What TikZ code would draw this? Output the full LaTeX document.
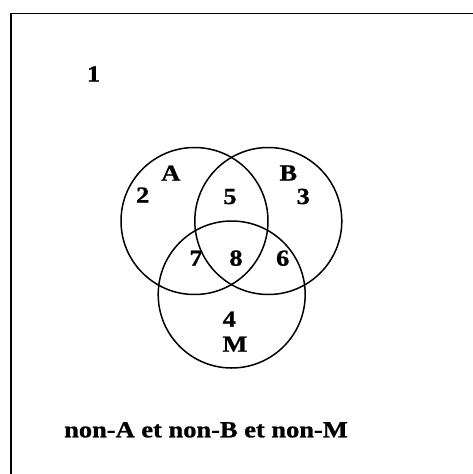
\documentclass[tikz,border=0pt]{standalone}
\usepackage{fontspec}
\usepackage{tikz}
\setmainfont{Liberation Serif}[FakeStretch=1.15, BoldFeatures={FakeBold=1}]
\tikzset{
  lbl/.style={font=\fontsize{23}{27}\selectfont\bfseries, inner sep=0pt, anchor=base},
  ring/.style={line width=1.5pt}
}

\begin{document}
\begin{tikzpicture}[x=1pt,y=-1pt]

\useasboundingbox (0,0) rectangle (473,474);

% ============================
% FRAME (top and left edges)
% ============================
\draw[line width=1.6pt] (473,13.5) -- (11,13.5) -- (11,474);

% ============================
% THREE SETS A, B, M
% ============================
\draw[ring] (194.5,221) circle (73.5);
\draw[ring] (268.3,221) circle (73.5);
\draw[ring] (231.7,294.5) circle (73.5);

% Set names
\node[lbl] (nameA) at (170.8,180.7) {A};
\node[lbl] (nameB) at (288.3,180.5) {B};
\node[lbl] (nameM) at (235,351.7) {M};

% Region numbers
\node[lbl] (r1) at (93.6,81.5) {1};
\node[lbl] (r2) at (142.7,202.7) {2};
\node[lbl] (r3) at (303.3,204) {3};
\node[lbl] (r4) at (229.3,326.7) {4};
\node[lbl] (r5) at (230,204) {5};
\node[lbl] (r6) at (282.7,265.7) {6};
\node[lbl] (r7) at (196,265.7) {7};
\node[lbl] (r8) at (236,265.7) {8};

% Outside region
\node[lbl, anchor=base west] (outside) at (64,437.3) {non-A et non-B et non-M};

\end{tikzpicture}
\end{document}
